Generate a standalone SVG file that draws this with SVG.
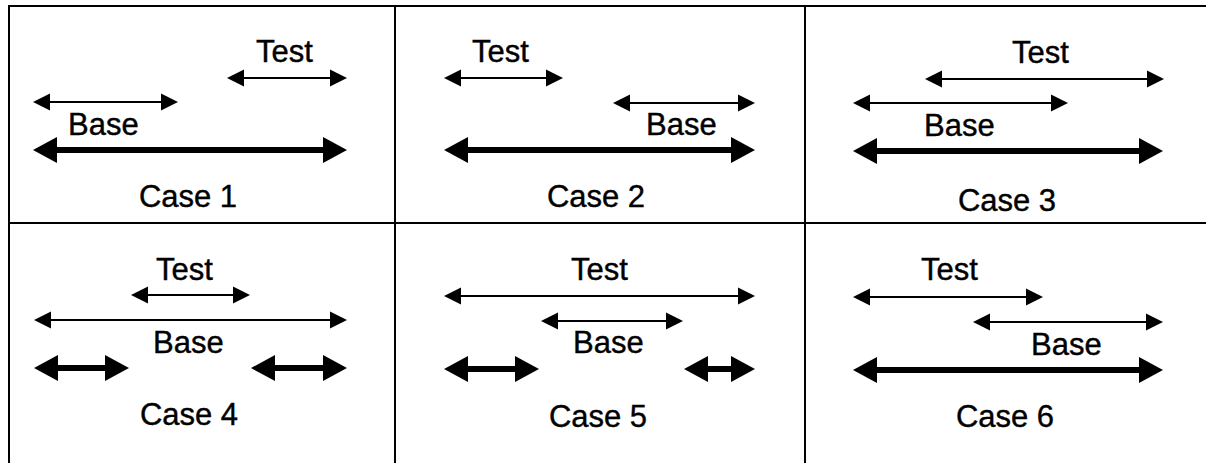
<svg xmlns="http://www.w3.org/2000/svg" width="1206" height="463" viewBox="0 0 1206 463">
  <style>
    .grid { stroke: #000; stroke-width: 2; fill: none; }
    .thin { stroke: #000; stroke-width: 2; marker-start: url(#headThin); marker-end: url(#headThin); }
    .thick { stroke: #000; stroke-width: 6; marker-start: url(#headThick); marker-end: url(#headThick); }
    text { font-family: "Liberation Sans", Arial, sans-serif; font-size: 31px; fill: #000; stroke: #000; stroke-width: 0.4; }
    .case { text-anchor: middle; }
  </style>
  <defs>
    <marker id="headThin" markerUnits="userSpaceOnUse" markerWidth="17" markerHeight="17" refX="0" refY="8.5" orient="auto-start-reverse" overflow="visible">
      <path d="M0,0 L17,8.5 L0,17 Z" fill="#000"/>
    </marker>
    <marker id="headThick" markerUnits="userSpaceOnUse" markerWidth="24" markerHeight="26" refX="0" refY="13" orient="auto-start-reverse" overflow="visible">
      <path d="M0,0 L24,13 L0,26 Z" fill="#000"/>
    </marker>
  </defs>

  <rect width="1206" height="463" fill="#fff"/>

  <!-- table grid -->
  <g id="grid">
    <line class="grid" x1="9" y1="6" x2="1206" y2="6"/>
    <line class="grid" x1="9" y1="223" x2="1206" y2="223"/>
    <line class="grid" x1="9" y1="5" x2="9" y2="463"/>
    <line class="grid" x1="395" y1="5" x2="395" y2="463"/>
    <line class="grid" x1="805" y1="5" x2="805" y2="463"/>
  </g>

  <!-- case panels: labels -->
  <g id="case1">
    <text x="256" y="62">Test</text>
    <text x="68" y="135">Base</text>
    <text class="case" x="188" y="207">Case 1</text>
  </g>
  <g id="case2">
    <text x="472" y="62">Test</text>
    <text x="646" y="135">Base</text>
    <text class="case" x="596" y="207">Case 2</text>
  </g>
  <g id="case3">
    <text x="1012" y="63">Test</text>
    <text x="924" y="136">Base</text>
    <text class="case" x="1007" y="211">Case 3</text>
  </g>
  <g id="case4">
    <text x="156" y="280">Test</text>
    <text x="153" y="353">Base</text>
    <text class="case" x="189" y="425">Case 4</text>
  </g>
  <g id="case5">
    <text x="571" y="280">Test</text>
    <text x="573" y="353">Base</text>
    <text class="case" x="598" y="427">Case 5</text>
  </g>
  <g id="case6">
    <text x="921" y="280">Test</text>
    <text x="1031" y="355">Base</text>
    <text class="case" x="1005" y="427">Case 6</text>
  </g>

  <!-- interval arrows (shaft ends at the back of each head) -->
  <g id="connectors">
    <!-- case 1 -->
    <line class="thin" x1="244" y1="78" x2="330" y2="78"/>
    <line class="thin" x1="50" y1="102" x2="161" y2="102"/>
    <line class="thick" x1="57" y1="150" x2="323" y2="150"/>
    <!-- case 2 -->
    <line class="thin" x1="461" y1="78" x2="546" y2="78"/>
    <line class="thin" x1="630" y1="103" x2="738" y2="103"/>
    <line class="thick" x1="468" y1="150" x2="731" y2="150"/>
    <!-- case 3 -->
    <line class="thin" x1="942" y1="79" x2="1147" y2="79"/>
    <line class="thin" x1="870" y1="103" x2="1051" y2="103"/>
    <line class="thick" x1="877" y1="151" x2="1139" y2="151"/>
    <!-- case 4 -->
    <line class="thin" x1="148" y1="295" x2="233" y2="295"/>
    <line class="thin" x1="51" y1="320" x2="330" y2="320"/>
    <line class="thick" x1="58" y1="368" x2="105" y2="368"/>
    <line class="thick" x1="275" y1="368" x2="323" y2="368"/>
    <!-- case 5 -->
    <line class="thin" x1="461" y1="296" x2="738" y2="296"/>
    <line class="thin" x1="558" y1="321" x2="666" y2="321"/>
    <line class="thick" x1="468" y1="369" x2="515" y2="369"/>
    <line class="thick" x1="708" y1="369" x2="731" y2="369"/>
    <!-- case 6 -->
    <line class="thin" x1="870" y1="297" x2="1026" y2="297"/>
    <line class="thin" x1="990" y1="322" x2="1146" y2="322"/>
    <line class="thick" x1="877" y1="370" x2="1139" y2="370"/>
  </g>
</svg>
